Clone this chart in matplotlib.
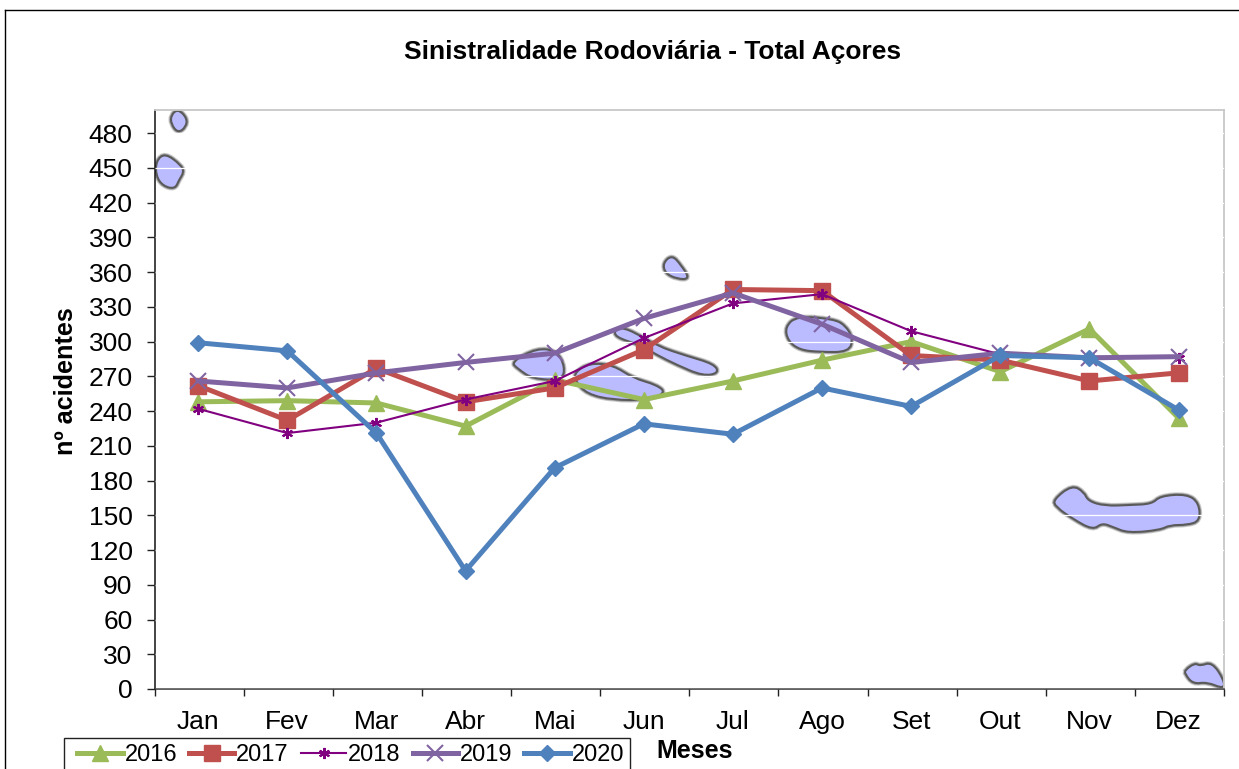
import matplotlib
matplotlib.use("Agg")
import matplotlib.pyplot as plt
from matplotlib.lines import Line2D
from matplotlib.patches import PathPatch, Rectangle
from matplotlib.path import Path
from matplotlib.transforms import Affine2D
import matplotlib.patheffects as pe
from matplotlib.ticker import FixedLocator, NullFormatter

plt.rcParams['font.family'] = ['Liberation Sans', 'DejaVu Sans']

months = ['Jan', 'Fev', 'Mar', 'Abr', 'Mai', 'Jun', 'Jul', 'Ago', 'Set', 'Out', 'Nov', 'Dez']
v2016 = [248, 249, 247, 227, 267, 250, 266, 284, 300, 274, 311, 234]
v2017 = [262, 232, 277, 248, 260, 293, 345, 344, 288, 284, 266, 273]
v2018 = [242, 221, 230, 250, 266, 303, 333, 341, 309, 289, 287, 286]
v2019 = [266, 260, 273, 282, 290, 320, 342, 315, 282, 290, 286, 287]
v2020 = [299, 292, 221, 102, 191, 229, 220, 260, 244, 288, 286, 241]
yticks = list(range(0, 481, 30))

# Decorative island silhouettes from the background image (pixel outline)
islands = [
    [(178, 109), (187, 118), (186, 127), (178, 133), (171, 124), (171, 115)],
    [(165, 153), (181, 165), (184, 172), (179, 180), (175, 189), (163, 186), (156, 176), (156, 161)],
    [(663, 263), (672, 255), (681, 265), (690, 279), (677, 279), (665, 273)],
    [(615, 329), (627, 328), (657, 346), (687, 356), (714, 364), (719, 373), (703, 376),
     (677, 365), (657, 355), (640, 345), (615, 337)],
    [(785, 327), (797, 316), (833, 319), (845, 325), (853, 338), (849, 352), (820, 352),
     (800, 350), (788, 341)],
    [(511, 362), (537, 348), (557, 351), (565, 367), (562, 380), (533, 379), (518, 369)],
    [(575, 372), (590, 363), (613, 365), (633, 378), (657, 385), (666, 393), (647, 400),
     (613, 400), (587, 394), (575, 381)],
    [(1053, 500), (1072, 485), (1084, 492), (1088, 501), (1105, 506), (1130, 505), (1152, 504),
     (1160, 496), (1187, 494), (1199, 503), (1200, 521), (1187, 525), (1170, 525), (1160, 530),
     (1128, 533), (1113, 527), (1102, 523), (1093, 530), (1073, 519), (1056, 507)],
    [(1185, 670), (1195, 663), (1200, 666), (1212, 662), (1224, 680), (1224, 689), (1207, 682),
     (1193, 684), (1185, 674)],
]


def smooth_outline(pts):
    """Closed quadratic-Bezier path through the midpoints of the outline."""
    mids = [((pts[i][0] + pts[(i + 1) % len(pts)][0]) / 2,
             (pts[i][1] + pts[(i + 1) % len(pts)][1]) / 2) for i in range(len(pts))]
    verts = [mids[-1]]
    codes = [Path.MOVETO]
    for p, m in zip(pts, mids):
        verts += [p, m]
        codes += [Path.CURVE3, Path.CURVE3]
    return Path(verts, codes)


W, H = 1239, 769
fig = plt.figure(figsize=(W / 100, H / 100), dpi=100, facecolor='white')
L, R, T, B = 154.5, 1224, 110, 689
ax = fig.add_axes([L / W, 1 - B / H, (R - L) / W, (B - T) / H])
ax.set_xlim(0, 12)
ax.set_ylim(0, 500)

px = Affine2D().scale(1, -1).translate(0, H)
for outline in islands:
    ax.add_patch(PathPatch(smooth_outline(outline), transform=px, facecolor='#BBBBFF',
                           edgecolor='#5A5A5A', lw=1.5, joinstyle='round', zorder=1,
                           path_effects=[pe.withStroke(linewidth=3.8, foreground='#D0D0D0'),
                                         pe.withStroke(linewidth=2.6, foreground='#A0A0A0')]))

x = [i + 0.49 for i in range(12)]
ax.plot(x, v2016, color='#9BBB59', lw=3.6, marker='^', ms=11, mec='#9BBB59', zorder=3, label='2016')
ax.plot(x, v2017, color='#C0504D', lw=3.6, marker='s', ms=12, mec='#C0504D', zorder=3.1, label='2017')
ax.plot(x, v2018, color='#800080', lw=1.5, marker=(6, 2, 0), ms=8, mew=1.5, mec='#800080', zorder=3.2, label='2018')
ax.plot(x, v2019, color='#8064A2', lw=3.6, marker='x', ms=11, mew=1.5, mec='#8064A2', zorder=3.3, label='2019')
ax.plot(x, v2020, color='#4F81BD', lw=3.6, marker='D', ms=8.5, mec='#4F81BD', zorder=3.4, label='2020')

ax.yaxis.set_major_locator(FixedLocator(yticks))
ax.yaxis.grid(True, color='white', lw=0.9, zorder=2)
ax.set_axisbelow(False)
for gl in ax.get_ygridlines():
    gl.set_zorder(2)
ax.tick_params(axis='y', direction='out', length=5.8, width=1, labelsize=19, pad=10, color='#222222')
ax.xaxis.set_major_locator(FixedLocator(range(13)))
ax.xaxis.set_major_formatter(NullFormatter())
ax.xaxis.set_minor_locator(FixedLocator(x))
ax.set_xticklabels(months, minor=True, fontsize=19)
ax.tick_params(axis='x', which='major', direction='out', length=5, width=1, color='#222222')
ax.tick_params(axis='x', which='minor', length=0, pad=15)

ax.spines['left'].set_color('#111111')
ax.spines['bottom'].set_color('#333333')
ax.spines['top'].set_color('#C8C8C8')
ax.spines['right'].set_color('#C8C8C8')
for s in ('left', 'bottom'):
    ax.spines[s].set_linewidth(1.1)
for s in ('top', 'right'):
    ax.spines[s].set_linewidth(1.3)

fig.text(653 / W, 1 - 51.5 / H, 'Sinistralidade Rodoviária - Total Açores', ha='center', va='center',
         fontsize=19, fontweight='bold')
fig.text(66 / W, 1 - 381 / H, 'nº acidentes', rotation=90, ha='center', va='center',
         fontsize=18.2, fontweight='bold')
fig.text(695 / W, 1 - 750.5 / H, 'Meses', ha='center', va='center', fontsize=18, fontweight='bold')

fig.add_artist(Line2D([5 / W, 5 / W], [0, 1 - 10 / H], color='black', lw=1))
fig.add_artist(Line2D([5 / W, 1], [1 - 10 / H, 1 - 10 / H], color='black', lw=1))

fig.add_artist(Rectangle((64 / W, 1 - 778 / H), 566 / W, 40 / H, transform=fig.transFigure,
                         facecolor='white', edgecolor='#222222', lw=1, zorder=9))
leg = fig.legend(loc='upper left', bbox_to_anchor=(77 / W, 1 - 744 / H), bbox_transform=fig.transFigure,
                 ncol=5, fontsize=17, frameon=False, borderaxespad=0, borderpad=0,
                 handlelength=1.93, handletextpad=0.08, columnspacing=0.5)
leg.set_zorder(10)

fig.savefig('out.png', dpi=100)
